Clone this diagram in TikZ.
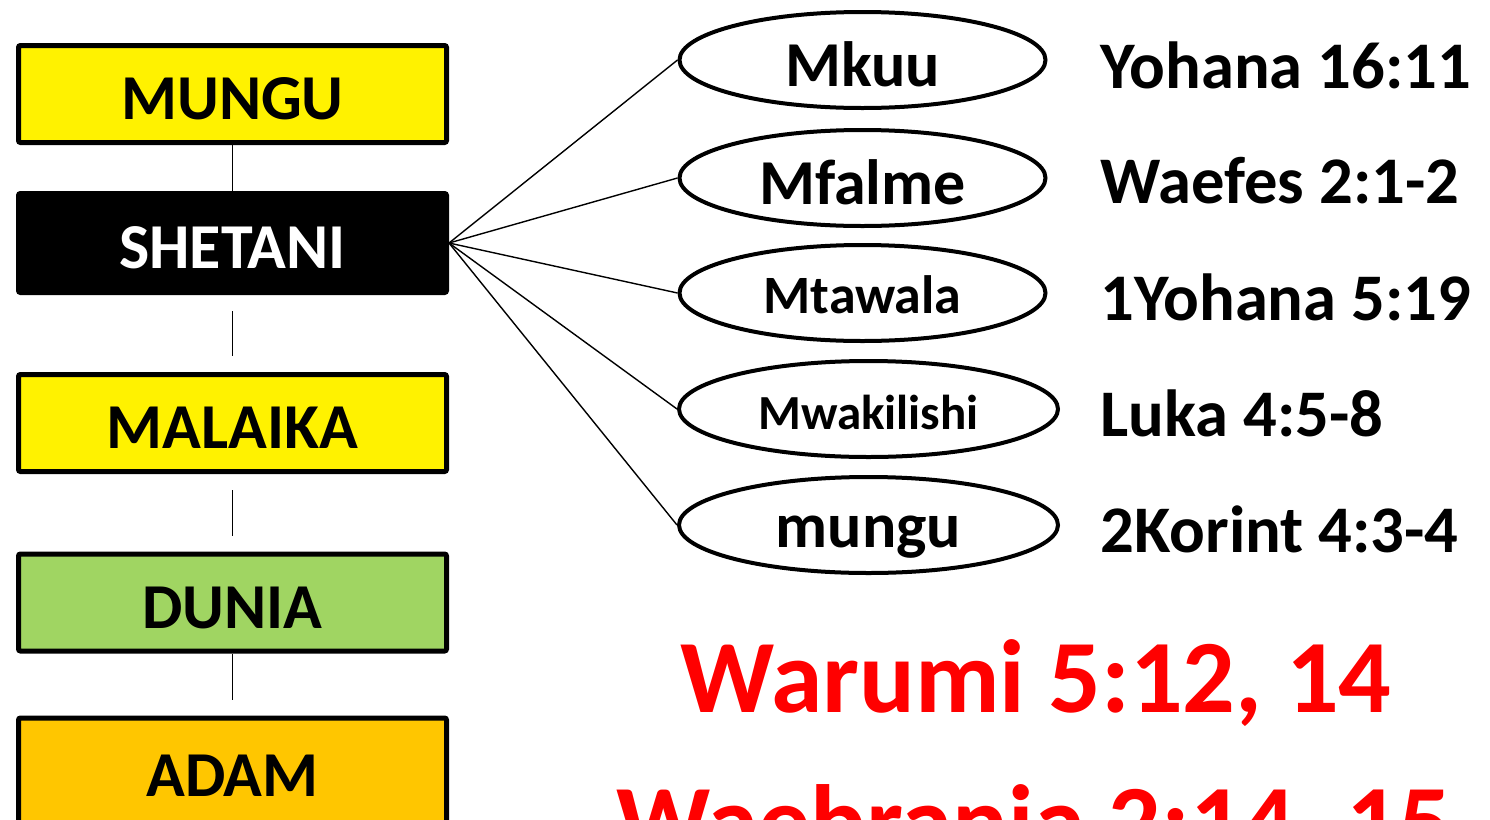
\documentclass[tikz,border=0pt]{standalone}
\usepackage{fontspec}
\setmainfont{Carlito}
\usetikzlibrary{shapes.geometric}
\definecolor{duniagreen}{HTML}{A0D562}
\definecolor{adamgold}{HTML}{FFC600}
\tikzset{
  levelbox/.style={draw=black, line width=2.5pt, rounded corners=1pt, minimum width=214pt, minimum height=48.5pt, inner sep=0pt, font=\fontsize{32}{38}\selectfont\bfseries, text height=25.7pt, text depth=0pt},
  titleoval/.style={draw=black, ellipse, line width=2pt, minimum width=183pt, minimum height=48pt, inner sep=0pt, font=\fontsize{32}{38}\selectfont\bfseries, text height=26pt, text depth=0pt},
  reftext/.style={anchor=base west, inner sep=0pt, font=\fontsize{33.3}{40}\selectfont\bfseries},
  redtext/.style={anchor=base, inner sep=0pt, text=red, font=\fontsize{52}{60}\selectfont\bfseries},
  link/.style={line width=0.7pt}
}
\begin{document}
\begin{tikzpicture}[x=0.5pt, y=-0.5pt]
\useasboundingbox (0,0) rectangle (1490,820);
\fill[white] (0,0) rectangle (1490,820);

% ngazi upande wa kushoto
\node[levelbox, fill=yellow] (mungu) at (232.5,94) {MUNGU};
\node[levelbox, fill=black, text=white, minimum height=49.5pt] (shetani) at (232.5,243) {SHETANI};
\node[levelbox, fill=yellow] (malaika) at (232.5,423) {MALAIKA};
\node[levelbox, fill=duniagreen] (dunia) at (232.5,602.5) {DUNIA};
\node[levelbox, fill=adamgold, minimum height=72pt, text height=20.2pt, text depth=14pt] (adam) at (232.5,790) {ADAM};

\draw[link] (mungu) -- (shetani);
\draw[link, shorten <=8pt, shorten >=8pt] (shetani) -- (malaika);
\draw[link, shorten <=8pt, shorten >=8pt] (malaika) -- (dunia);
\draw[link, shorten >=8pt] (dunia) -- (adam);

% vyeo vya shetani
\node[titleoval] (mkuu) at (862.5,60) {Mkuu};
\node[titleoval] (mfalme) at (862.5,178) {Mfalme};
\node[titleoval, font=\fontsize{27}{32}\selectfont\bfseries, text height=20.5pt] (mtawala) at (862.5,293) {Mtawala};
\node[titleoval, minimum width=189.5pt, font=\fontsize{24.5}{30}\selectfont\bfseries, text height=20.5pt] (mwakilishi) at (868.5,409) {Mwakilishi};
\node[titleoval, minimum width=189.5pt, text height=22pt] (mungulow) at (868.5,525) {mungu};

\foreach \t in {mkuu,mfalme,mtawala,mwakilishi,mungulow} {
  \draw[link] (shetani.east) -- (\t.west);
}

% marejeo
\node[reftext] (yohana) at (1100,88) {Yohana 16:11};
\node[reftext] (waefes) at (1100,203) {Waefes 2:1-2};
\node[reftext] (yohanab) at (1100,320) {1Yohana 5:19};
\node[reftext] (luka) at (1100,436) {Luka 4:5-8};
\node[reftext] (korint) at (1100,552) {2Korint 4:3-4};

\node[redtext] (warumi) at (1036,712) {Warumi 5:12, 14};
\node[redtext] (waebrania) at (1034,857) {Waebrania 2:14, 15};

\end{tikzpicture}
\end{document}
